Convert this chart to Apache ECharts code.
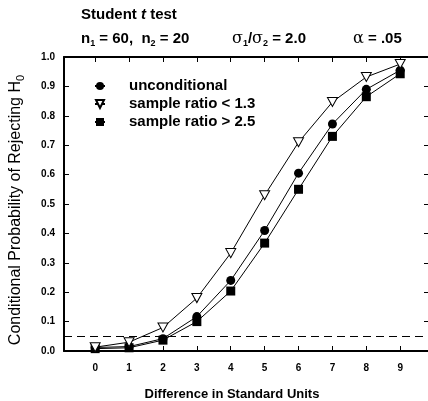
<!DOCTYPE html>
<html>
<head>
<meta charset="utf-8">
<script src="https://cdn.jsdelivr.net/npm/echarts@6/dist/echarts.min.js"></script>
<style>
html,body{margin:0;padding:0;background:#fff;}
#c{width:428px;height:401px;}
</style>
</head>
<body>
<div id="c"></div>
<script>
// Data
const xValues = [0, 1, 2, 3, 4, 5, 6, 7, 8, 9];
const unconditional = [0.012, 0.015, 0.042, 0.117, 0.24, 0.41, 0.605, 0.772, 0.89, 0.955];
const ratioLow = [0.013, 0.03, 0.08, 0.18, 0.333, 0.53, 0.71, 0.847, 0.932, 0.976];
const ratioHigh = [0.008, 0.011, 0.037, 0.1, 0.204, 0.367, 0.55, 0.73, 0.865, 0.943];
const alphaLevel = 0.05;
const seriesNames = ['unconditional', 'sample ratio < 1.3', 'sample ratio > 2.5'];

const FONT = 'Liberation Sans, Arial, sans-serif';
const triDown = 'path://M0,0L10,0L5,9Z';

function pairs(ys) { return xValues.map((x, i) => [x, ys[i]]); }

const chart = echarts.init(document.getElementById('c'), null, { renderer: 'canvas' });

const axisLineStyle = { color: '#000', width: 2 };
const TS = 15;
const X_MIN = -0.92, X_MAX = 9.82;

chart.setOption({
  animation: false,
  backgroundColor: '#fff',
  grid: { left: 64, right: 0, top: 57, bottom: 50, containLabel: false, outerBoundsMode: 'none' },
  graphic: [
    {
      type: 'text', left: 81, top: 7,
      style: {
        text: '{b|Student }{i|t}{b| test}',
        rich: {
          b: { fontFamily: FONT, fontWeight: 'bold', fontSize: TS, fill: '#000' },
          i: { fontFamily: FONT, fontWeight: 'bold', fontStyle: 'italic', fontSize: TS, fill: '#000' }
        }
      }
    },
    {
      type: 'text', left: 81, top: 31,
      style: {
        text: '{b|n}{s|1}{b| = 60,  n}{s|2}{b| = 20}',
        rich: {
          b: { fontFamily: FONT, fontWeight: 'bold', fontSize: TS, fill: '#000' },
          s: { fontFamily: FONT, fontWeight: 'bold', fontSize: 9, fill: '#000', padding: [10, 0, 0, 0] }
        }
      }
    },
    {
      type: 'text', left: 232, top: 31,
      style: {
        text: '{g|σ}{s|1}{b|/}{g|σ}{s|2}{b| = 2.0}',
        rich: {
          b: { fontFamily: FONT, fontWeight: 'bold', fontSize: TS, fill: '#000' },
          g: { fontFamily: 'DejaVu Serif, serif', fontSize: 16, fill: '#000' },
          s: { fontFamily: FONT, fontWeight: 'bold', fontSize: 9, fill: '#000', padding: [10, 0, 0, 0] }
        }
      }
    },
    {
      type: 'text', left: 353, top: 31,
      style: {
        text: '{g|α}{b| = .05}',
        rich: {
          b: { fontFamily: FONT, fontWeight: 'bold', fontSize: TS, fill: '#000' },
          g: { fontFamily: 'DejaVu Serif, serif', fontSize: 16, fill: '#000' }
        }
      }
    }
  ],
  legend: {
    orient: 'vertical',
    left: 89, top: 73,
    itemWidth: 10, itemHeight: 10,
    itemGap: 2,
    data: seriesNames,
    textStyle: {
      fontFamily: FONT, fontWeight: 'bold', fontSize: 15, color: '#000',
      lineHeight: 16, padding: [0, 0, 0, 19]
    }
  },
  xAxis: [
    {
      type: 'value', position: 'bottom',
      min: X_MIN, max: X_MAX,
      name: 'Difference in Standard Units',
      nameLocation: 'middle', nameGap: 37,
      nameTextStyle: { fontFamily: FONT, fontWeight: 'bold', fontSize: 13, color: '#000', padding: [0, 28, 0, 0] },
      axisLine: { show: true, onZero: false, lineStyle: axisLineStyle },
      axisTick: { show: true, inside: true, length: 5, lineStyle: { color: '#000', width: 1 }, customValues: xValues },
      axisLabel: { show: true, customValues: xValues, margin: 12, fontFamily: FONT, fontWeight: 'bold', fontSize: 10, color: '#000' },
      splitLine: { show: false }
    },
    {
      type: 'value', position: 'top',
      min: X_MIN, max: X_MAX,
      axisLine: { show: true, onZero: false, lineStyle: axisLineStyle },
      axisTick: { show: true, inside: true, length: 5, lineStyle: { color: '#000', width: 1 }, customValues: xValues },
      axisLabel: { show: false },
      splitLine: { show: false }
    }
  ],
  yAxis: [
    {
      type: 'value', position: 'left',
      min: 0, max: 1, interval: 0.1,
      name: '{t|Conditional Probability of Rejecting H}{s|0}',
      nameLocation: 'middle', nameGap: 38, nameRotate: 90,
      nameTextStyle: {
        padding: [0, 12, 0, 0],
        rich: {
          t: { fontFamily: FONT, fontSize: 16, color: '#000' },
          s: { fontFamily: FONT, fontSize: 11, color: '#000', padding: [9, 0, 0, 0] }
        }
      },
      axisLine: { show: true, onZero: false, lineStyle: axisLineStyle },
      axisTick: { show: true, inside: true, length: 5, lineStyle: { color: '#000', width: 1 } },
      axisLabel: { margin: 9, fontFamily: FONT, fontWeight: 'bold', fontSize: 10, color: '#000',
        formatter: v => v.toFixed(1) },
      splitLine: { show: false }
    },
    {
      type: 'value', position: 'right',
      min: 0, max: 1, interval: 0.1,
      axisLine: { show: false, onZero: false },
      axisTick: { show: true, inside: true, length: 4, lineStyle: { color: '#000', width: 1 } },
      axisLabel: { show: false },
      splitLine: { show: false }
    }
  ],
  series: [
    {
      name: seriesNames[0], type: 'line', xAxisIndex: 0, yAxisIndex: 0,
      data: pairs(unconditional),
      symbol: 'circle', symbolSize: 9,
      lineStyle: { color: '#000', width: 1 },
      itemStyle: { color: '#000', borderColor: '#000', borderWidth: 0 },
      z: 3,
      markLine: {
        silent: true, symbol: 'none', label: { show: false },
        lineStyle: { color: '#000', width: 1, type: [8, 5] },
        data: [{ yAxis: alphaLevel }]
      }
    },
    {
      name: seriesNames[1], type: 'line', xAxisIndex: 1, yAxisIndex: 1,
      data: pairs(ratioLow),
      symbol: triDown, symbolSize: [10, 9],
      lineStyle: { color: '#000', width: 1 },
      itemStyle: { color: '#fff', borderColor: '#000', borderWidth: 1 },
      z: 4
    },
    {
      name: seriesNames[2], type: 'line', xAxisIndex: 0, yAxisIndex: 0,
      data: pairs(ratioHigh),
      symbol: 'rect', symbolSize: 9,
      lineStyle: { color: '#000', width: 1 },
      itemStyle: { color: '#000', borderColor: '#000', borderWidth: 0 },
      z: 3
    }
  ]
});
</script>
</body>
</html>
